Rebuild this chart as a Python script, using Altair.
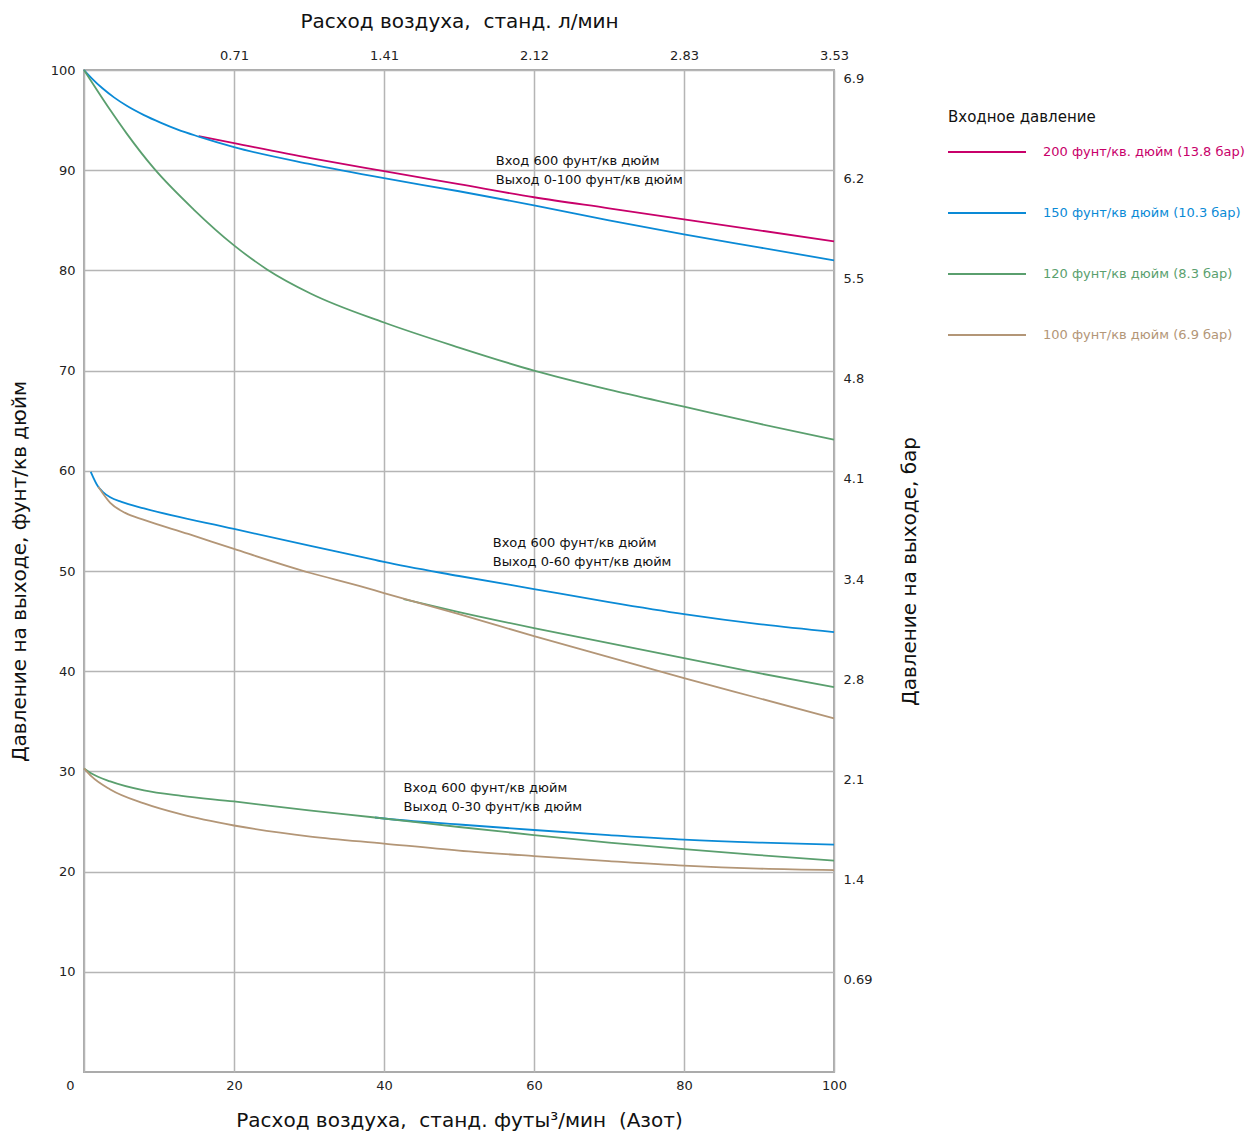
import altair as alt
import pandas as pd

FONT = "DejaVu Sans"
NB = "\u00a0"

S200 = "200 фунт/кв. дюйм (13.8 бар)"
S150 = "150 фунт/кв дюйм (10.3 бар)"
S120 = "120 фунт/кв дюйм (8.3 бар)"
S100 = "100 фунт/кв дюйм (6.9 бар)"
SERIES = [S200, S150, S120, S100]
COLORS = ["#c8006a", "#0a8ad6", "#5a9f6e", "#b39677"]

# ---- group 1: outlet 0-100 psi ----
g1_200_x = [15.3, 20, 30.2, 40, 50, 60, 70, 80, 90, 100]
g1_200_y = [93.4, 92.7, 91.2, 89.9, 88.6, 87.3, 86.2, 85.1, 84.0, 82.9]
g1_150_x = [0, 1, 2.5, 4, 5.7, 8, 10.2, 12.5, 15.3, 20, 30.2, 40, 50, 60, 70, 80, 90, 100]
g1_150_y = [100, 99.2, 98.15, 97.27, 96.43, 95.5, 94.75, 94.05, 93.35, 92.3, 90.6, 89.2, 87.9, 86.5, 85.0, 83.6, 82.3, 81.0]
g1_120_x = [0, 3.5, 5.7, 9.3, 14.6, 20, 24.4, 30.2, 40, 50, 60, 70, 80, 90, 100]
g1_120_y = [100, 96.0, 93.65, 90.2, 86.1, 82.5, 80.1, 77.7, 74.8, 72.3, 70.0, 68.1, 66.4, 64.7, 63.1]

# ---- group 2: outlet 0-60 psi ----
g2_150_x = [0.9, 1.9, 2.5, 3.5, 5, 8, 20, 30.2, 38.8, 40, 50, 60, 70, 80, 90, 100]
g2_150_y = [59.9, 58.4, 57.9, 57.35, 56.9, 56.25, 54.2, 52.5, 51.1, 50.9, 49.5, 48.2, 46.9, 45.7, 44.7, 43.9]
g2_120_x = [42.6, 50, 60, 70, 80, 90, 100]
g2_120_y = [47.2, 45.9, 44.3, 42.8, 41.3, 39.8, 38.4]
g2_100_x = [1.9, 3.5, 5.5, 8, 13.9, 20, 30.2, 36.8, 40, 50, 60, 70, 80, 90, 100]
g2_100_y = [58.4, 56.8, 55.8, 55.1, 53.7, 52.2, 49.8, 48.5, 47.8, 45.7, 43.5, 41.4, 39.3, 37.3, 35.3]

# ---- group 3: outlet 0-30 psi ----
g3_150_x = [38.8, 40, 50, 60, 70, 80, 90, 100]
g3_150_y = [25.4, 25.3, 24.7, 24.15, 23.65, 23.2, 22.9, 22.7]
g3_120_x = [0, 1, 3.5, 8, 13, 20, 30, 38.8, 50, 60, 70, 80, 90, 100]
g3_120_y = [30.3, 29.8, 29.0, 28.1, 27.55, 27.0, 26.1, 25.4, 24.45, 23.65, 22.9, 22.25, 21.65, 21.1]
g3_100_x = [0, 1, 3.5, 8, 13, 20, 30.2, 40, 50, 60, 70, 80, 90, 100]
g3_100_y = [30.3, 29.5, 28.2, 26.8, 25.7, 24.6, 23.5, 22.8, 22.1, 21.55, 21.05, 20.6, 20.3, 20.15]

CURVES = [
    ("g1_200", S200, g1_200_x, g1_200_y),
    ("g1_150", S150, g1_150_x, g1_150_y),
    ("g1_120", S120, g1_120_x, g1_120_y),
    ("g2_150", S150, g2_150_x, g2_150_y),
    ("g2_120", S120, g2_120_x, g2_120_y),
    ("g2_100", S100, g2_100_x, g2_100_y),
    ("g3_150", S150, g3_150_x, g3_150_y),
    ("g3_120", S120, g3_120_x, g3_120_y),
    ("g3_100", S100, g3_100_x, g3_100_y),
]

# annotations
ann_x = [54.9, 54.9, 54.5, 54.5, 42.6, 42.6]
ann_y = [90.9, 89.0, 52.8, 50.9, 28.3, 26.4]
ann_text = [
    "Вход 600 фунт/кв дюйм", "Выход 0-100 фунт/кв дюйм",
    "Вход 600 фунт/кв дюйм", "Выход 0-60 фунт/кв дюйм",
    "Вход 600 фунт/кв дюйм", "Выход 0-30 фунт/кв дюйм",
]

X_TICKS = [0, 20, 40, 60, 80, 100]
Y_TICKS = [10, 20, 30, 40, 50, 60, 70, 80, 90, 100]
TOP_TICKS = [20, 40, 60, 80, 100]
TOP_LABELS = ["0.71", "1.41", "2.12", "2.83", "3.53"]
BAR_LABELS = ["0.69", "1.4", "2.1", "2.8", "3.4", "4.1", "4.8", "5.5", "6.2", "6.9"]

rows = []
for cid, s, xs, ys in CURVES:
    for i, (x, y) in enumerate(zip(xs, ys)):
        rows.append({"curve": cid, "series": s, "flow": x, "psi": y, "i": i})
df = pd.DataFrame(rows)
ann_df = pd.DataFrame({"flow": ann_x, "psi": ann_y, "text": ann_text})

xs_scale = alt.Scale(domain=[0, 100], nice=False, zero=False)
ys_scale = alt.Scale(domain=[0, 100], nice=False, zero=False)

color_expr = (
    "[" + ",".join("'%s'" % c for c in COLORS) + "][indexof(["
    + ",".join("'%s'" % s for s in SERIES) + "], datum.label)]"
)
top_expr = "{" + ",".join("'%d':'%s'" % (v, l) for v, l in zip(TOP_TICKS, TOP_LABELS)) + "}[datum.value]"
bar_expr = "[" + ",".join("'%s'" % l for l in BAR_LABELS) + "][round(datum.value/10) - 1]"

lines = alt.Chart(df).mark_line(strokeWidth=1.8, interpolate="monotone").encode(
    x=alt.X("flow:Q", scale=xs_scale,
            axis=alt.Axis(values=X_TICKS, grid=True, orient="bottom", labelFlush=False,
                          labelPadding=7, titlePadding=18,
                          labelAlign={"condition": {"test": "datum.value == 0", "value": "right"}, "value": "center"},
                          labelOffset={"condition": {"test": "datum.value == 0", "value": -10}, "value": 0},
                          title="Расход воздуха," + NB + " станд. футы³/мин" + NB + " (Азот)")),
    y=alt.Y("psi:Q", scale=ys_scale,
            axis=alt.Axis(values=Y_TICKS, grid=True, orient="left", labelPadding=9, titlePadding=21,
                          title="Давление на выходе, фунт/кв дюйм")),
    color=alt.Color("series:N", scale=alt.Scale(domain=SERIES, range=COLORS),
                    legend=alt.Legend(
                        orient="none", legendX=864, legendY=40,
                        title="Входное давление", titleFont=FONT, titleFontSize=15,
                        titleFontWeight="normal", titleColor="#111", titlePadding=13,
                        labelFont=FONT, labelFontSize=13, labelLimit=400,
                        labelColor=alt.ExprRef(expr=color_expr),
                        symbolType="M-3,0L3,0", symbolSize=676, symbolStrokeWidth=2,
                        symbolOffset=25, rowPadding=40, labelOffset=42)),
    detail="curve:N",
    order="i:Q",
)

ann = alt.Chart(ann_df).mark_text(align="left", baseline="middle", font=FONT,
                                   fontSize=13, color="#111").encode(
    x=alt.X("flow:Q", scale=xs_scale, axis=None),
    y=alt.Y("psi:Q", scale=ys_scale, axis=None),
    text="text:N",
)

sec = alt.Chart(df).mark_line(opacity=0).encode(
    x=alt.X("flow:Q", scale=xs_scale,
            axis=alt.Axis(values=TOP_TICKS, orient="top", grid=False, labelExpr=top_expr,
                          labelFlush=False, labelPadding=8, titlePadding=18,
                          title="Расход воздуха," + NB + " станд. л/мин")),
    y=alt.Y("psi:Q", scale=ys_scale,
            axis=alt.Axis(values=Y_TICKS, orient="right", grid=False, labelExpr=bar_expr,
                          labelBaseline="top", labelOffset=2, labelPadding=9,
                          titleAngle=270, titlePadding=48,
                          title="Давление на выходе, бар")),
    detail="curve:N",
)

chart = alt.layer(lines, ann, sec).resolve_scale(
    x="independent", y="independent"
).properties(
    width=750, height=1002,
    autosize=alt.AutoSizeParams(type="none"),
    padding={"left": 76, "top": 62, "right": 415, "bottom": 60},
).configure_view(
    stroke="#ababab", strokeWidth=2
).configure_axis(
    domain=False, ticks=False, gridColor="#b5b5b5", gridWidth=1.5,
    labelFont=FONT, labelFontSize=13, labelColor="#222",
    titleFont=FONT, titleFontSize=20, titleFontWeight="normal", titleColor="#111",
)

chart.save("out.html", embed_options={"renderer": "svg", "actions": False})
